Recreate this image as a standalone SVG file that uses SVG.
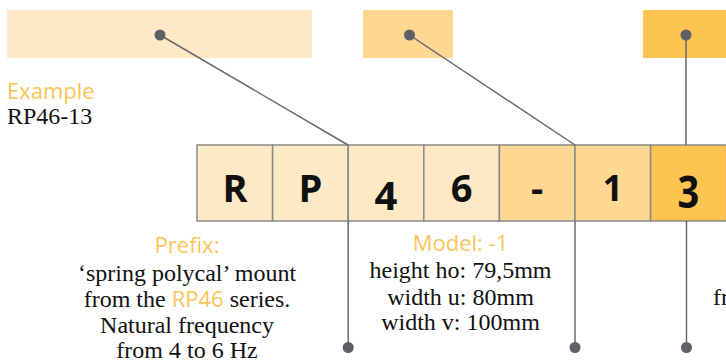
<svg xmlns="http://www.w3.org/2000/svg" width="726" height="364" viewBox="0 0 726 364">
<style>
.c1{fill:#FEE9C4}.c2{fill:#FED792}.c3{fill:#FEC451}
.box{stroke:#8a8a8a;stroke-width:1.5}
.ch{font-family:"Open Sans",sans-serif;font-weight:700;fill:#111;text-anchor:middle}
.ln{stroke:#67686c;stroke-width:1.5;fill:none}
.dot{fill:#5f6066}
.hd{font-family:"Open Sans",sans-serif;font-size:22px;fill:#FDC357}
.bd{font-family:"Liberation Serif",serif;font-size:24px;fill:#111}
.ctr{text-anchor:middle}
</style>
<g id="bar-prefix"><rect class="c1" x="7" y="10" width="305" height="48"/></g>
<g id="bar-model"><rect class="c2" x="363" y="10" width="90" height="48"/></g>
<g id="bar-third"><rect class="c3" x="643" y="10" width="83" height="48"/></g>
<g id="example"><text class="hd" x="7" y="99" font-size="21">Example</text><text class="bd" x="7" y="124" font-size="23">RP46-13</text></g>
<g id="code">
<g id="box-R"><rect class="c1 box" x="197" y="145" width="75.6" height="76"/><text class="ch" x="235" y="202" font-size="38">R</text></g>
<g id="box-P"><rect class="c1 box" x="272.6" y="145" width="75.6" height="76"/><text class="ch" x="310.4" y="202" font-size="38">P</text></g>
<g id="box-4"><rect class="c1 box" x="348.2" y="145" width="75.6" height="76"/><text class="ch" x="386" y="210" font-size="40">4</text></g>
<g id="box-6"><rect class="c1 box" x="423.8" y="145" width="75.6" height="76"/><text class="ch" x="461.6" y="202" font-size="38">6</text></g>
<g id="box-dash"><rect class="c2 box" x="499.4" y="145" width="75.6" height="76"/><text class="ch" x="537.2" y="202" font-size="38">-</text></g>
<g id="box-1"><rect class="c2 box" x="575" y="145" width="75.6" height="76"/><text class="ch" x="612.8" y="201" font-size="35">1</text></g>
<g id="box-3"><rect class="c3 box" x="650.6" y="145" width="76" height="76"/><text class="ch" transform="translate(688.4,208) scale(1,1.2)" x="0" y="0" font-size="38">3</text></g>
</g>
<g id="connectors">
<line class="ln" x1="160" y1="35" x2="348" y2="145"/>
<line class="ln" x1="409.5" y1="35" x2="575" y2="145"/>
<line class="ln" x1="686" y1="35" x2="686" y2="145"/>
<line class="ln" x1="348.2" y1="221" x2="348.2" y2="347"/>
<line class="ln" x1="575" y1="221" x2="575" y2="347"/>
<line class="ln" x1="686.5" y1="221" x2="686.5" y2="347"/>
<circle class="dot" cx="160" cy="35" r="5.5"/>
<circle class="dot" cx="409.5" cy="35" r="5.5"/>
<circle class="dot" cx="686" cy="35" r="5.5"/>
<circle class="dot" cx="348.2" cy="347.5" r="5.5"/>
<circle class="dot" cx="575" cy="347.5" r="5.5"/>
<circle class="dot" cx="686.5" cy="347.5" r="5.5"/>
</g>
<g id="prefix-desc">
<text class="hd ctr" x="187" y="253">Prefix:</text>
<text class="bd ctr" x="187" y="281">‘spring polycal’ mount</text>
<text class="bd ctr" x="187" y="307">from the <tspan class="hd">RP46</tspan> series.</text>
<text class="bd ctr" x="187" y="333">Natural frequency</text>
<text class="bd ctr" x="187" y="358">from 4 to 6 Hz</text>
</g>
<g id="model-desc">
<text class="hd ctr" x="460.5" y="251">Model: -1</text>
<text class="bd ctr" x="460.5" y="278">height ho: 79,5mm</text>
<text class="bd ctr" x="460.5" y="305">width u: 80mm</text>
<text class="bd ctr" x="460.5" y="330">width v: 100mm</text>
</g>
<g id="third-desc"><text class="bd" x="713" y="305">fr</text></g>
</svg>
